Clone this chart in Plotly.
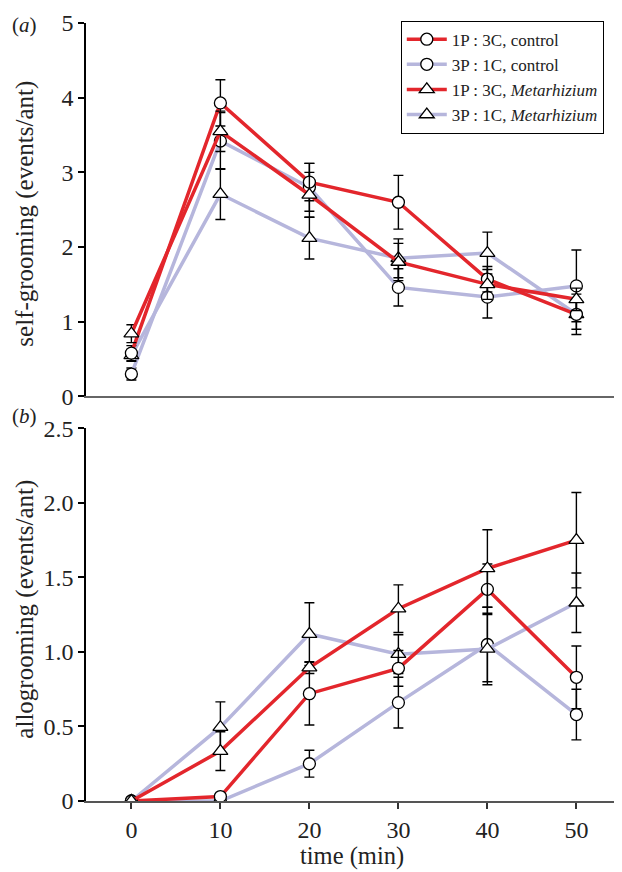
import plotly.graph_objects as go

time = [0, 10, 20, 30, 40, 50]

names = ["1P : 3C, control", "3P : 1C, control",
         "1P : 3C, <i>Metarhizium</i>", "3P : 1C, <i>Metarhizium</i>"]

# (a) self-grooming (events/ant)
self_red_ctrl = [0.58, 3.93, 2.87, 2.60, 1.57, 1.10]
self_red_ctrl_err = [0.10, 0.31, 0.25, 0.36, 0.17, 0.20]
self_lav_ctrl = [0.30, 3.42, 2.80, 1.46, 1.33, 1.48]
self_lav_ctrl_err = [0.08, 0.38, 0.32, 0.25, 0.28, 0.48]
self_red_met = [0.84, 3.55, 2.70, 1.80, 1.50, 1.30]
self_red_met_err = [0.12, 0.27, 0.30, 0.25, 0.20, 0.15]
self_lav_met = [0.55, 2.71, 2.12, 1.85, 1.92, 1.10]
self_lav_met_err = [0.08, 0.34, 0.28, 0.26, 0.28, 0.27]

# (b) allogrooming (events/ant)
allo_red_ctrl = [0, 0.03, 0.72, 0.89, 1.42, 0.83]
allo_red_ctrl_err = [0, 0.02, 0.21, 0.12, 0.17, 0.21]
allo_lav_ctrl = [0, 0.0, 0.25, 0.66, 1.05, 0.58]
allo_lav_ctrl_err = [0, 0, 0.09, 0.17, 0.25, 0.17]
allo_red_met = [0, 0.335, 0.895, 1.29, 1.56, 1.75]
allo_red_met_err = [0, 0.13, 0.04, 0.16, 0.26, 0.32]
allo_lav_met = [0, 0.495, 1.12, 0.985, 1.02, 1.33]
allo_lav_met_err = [0, 0.17, 0.21, 0.13, 0.24, 0.20]

y_ticks_a = [0, 1, 2, 3, 4, 5]
y_ticks_b = [0, 0.5, 1.0, 1.5, 2.0, 2.5]
y_ticktext_b = ["0", "0.5", "1.0", "1.5", "2.0", "2.5"]

RED = "#e3262c"
LAV = "#b6b6dc"
FONT = "Liberation Serif, Times New Roman, Times, serif"

styles = [(RED, "circle"), (LAV, "circle"),
          (RED, "triangle-up"), (LAV, "triangle-up")]

fig = go.Figure()

def add(y, err, idx, xa, ya, show):
    color, sym = styles[idx]
    fig.add_trace(go.Scatter(
        x=time, y=y, name=names[idx], mode="lines+markers",
        xaxis=xa, yaxis=ya, showlegend=show, legendrank=idx + 1,
        line=dict(color=color, width=3.5),
        marker=dict(symbol=sym, size=12 if sym == "circle" else 13,
                    color="white", line=dict(color="black", width=1.3)),
        error_y=dict(type="data", array=err, visible=True, color="black",
                     thickness=1.4, width=5),
    ))

# draw order: lavender below red
add(self_lav_ctrl, self_lav_ctrl_err, 1, "x", "y", True)
add(self_lav_met, self_lav_met_err, 3, "x", "y", True)
add(self_red_ctrl, self_red_ctrl_err, 0, "x", "y", True)
add(self_red_met, self_red_met_err, 2, "x", "y", True)

add(allo_lav_ctrl, allo_lav_ctrl_err, 1, "x2", "y2", False)
add(allo_lav_met, allo_lav_met_err, 3, "x2", "y2", False)
add(allo_red_ctrl, allo_red_ctrl_err, 0, "x2", "y2", False)
add(allo_red_met, allo_red_met_err, 2, "x2", "y2", False)

xr = [-5.1, 54.9]
top_dom = [0.52, 1.0]
bot_dom = [0.0, 0.479]

fig.update_layout(
    width=614, height=864,
    margin=dict(l=78, r=2, t=12, b=71),
    paper_bgcolor="white", plot_bgcolor="white",
    font=dict(family=FONT, size=24, color="#222"),
    xaxis=dict(domain=[0, 1], range=xr, anchor="y", showticklabels=False,
               ticks="", showline=True, linecolor="#666", linewidth=1.5,
               showgrid=False, zeroline=False),
    yaxis=dict(domain=top_dom, range=[0, 5], anchor="x", tickvals=y_ticks_a,
               ticks="outside", ticklen=6, tickwidth=1.5, tickcolor="black",
               showline=True, linecolor="black", linewidth=1.5,
               showgrid=False, zeroline=False),
    xaxis2=dict(domain=[0, 1], range=xr, anchor="y2", tickvals=time,
                ticks="outside", ticklen=6, tickwidth=1.5, tickcolor="#333",
                showline=True, linecolor="#555", linewidth=1.5,
                showgrid=False, zeroline=False),
    yaxis2=dict(domain=bot_dom, range=[0, 2.5], anchor="x2", tickvals=y_ticks_b,
                ticktext=y_ticktext_b,
                ticks="outside", ticklen=6, tickwidth=1.5, tickcolor="black",
                showline=True, linecolor="black", linewidth=1.5,
                showgrid=False, zeroline=False),
    legend=dict(x=0.5895, y=1.003, xanchor="left", yanchor="top",
                bgcolor="white", bordercolor="black", borderwidth=1,
                font=dict(family=FONT, size=17, color="#222"),
                tracegroupgap=0, itemwidth=40),
    annotations=[
        dict(text="(<i>a</i>)", xref="paper", yref="paper", x=-0.143, y=1.0148,
             xanchor="left", yanchor="top", showarrow=False,
             font=dict(family=FONT, size=21)),
        dict(text="(<i>b</i>)", xref="paper", yref="paper", x=-0.143, y=0.4955,
             xanchor="left", yanchor="middle", showarrow=False,
             font=dict(family=FONT, size=21)),
        dict(text="self-grooming (events/ant)", xref="paper", yref="paper",
             x=-0.1142, y=0.755, textangle=-90, xanchor="center", yanchor="middle",
             showarrow=False, font=dict(family=FONT, size=25)),
        dict(text="allogrooming (events/ant)", xref="paper", yref="paper",
             x=-0.1142, y=0.246, textangle=-90, xanchor="center", yanchor="middle",
             showarrow=False, font=dict(family=FONT, size=25)),
        dict(text="time (min)", xref="paper", yref="paper",
             x=0.498, y=-0.071, xanchor="center", yanchor="middle",
             showarrow=False, font=dict(family=FONT, size=24.5)),
    ],
)

fig.write_html("out.html")
